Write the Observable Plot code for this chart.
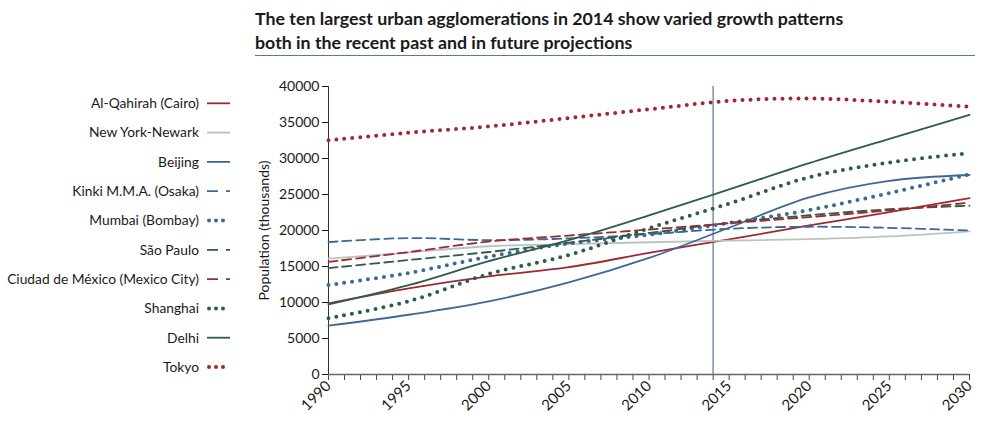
<!DOCTYPE html>
<html><head><meta charset="utf-8">
<script src="https://cdn.jsdelivr.net/npm/d3@7"></script>
<script src="https://cdn.jsdelivr.net/npm/@observablehq/plot@0.6"></script>
<style>
body{margin:0;background:#fff;width:987px;height:422px;overflow:hidden;position:relative;font-family:Lato,sans-serif}
#title{position:absolute;left:255px;top:6px;font-family:Lato,sans-serif;font-weight:bold;font-size:17.8px;line-height:24px;color:#1a1a1a;white-space:nowrap;z-index:3}
#rule{position:absolute;left:255px;top:55px;width:720px;height:0;border-top:1.3px solid #5b7895;z-index:3}
#chart{position:absolute;left:0;top:60px;z-index:1}
#legend{position:absolute;left:0;top:80px;z-index:2}
</style>
</head><body>
<div id="title">The ten largest urban agglomerations in 2014 show varied growth patterns<br>both in the recent past and in future projections</div>
<div id="rule"></div>
<div id="legend"></div>
<div id="chart"></div>
<script>
const years = [1990, 1995, 2000, 2005, 2010, 2015, 2020, 2025, 2030];
const cityNames = ["Al-Qahirah (Cairo)", "New York-Newark", "Beijing", "Kinki M.M.A. (Osaka)", "Mumbai (Bombay)", "São Paulo", "Ciudad de México (Mexico City)", "Shanghai", "Delhi", "Tokyo"];
const cairo    = [9892, 11962, 13626, 14900, 16899, 18772, 20700, 22550, 24502];
const newYork  = [16086, 16943, 17813, 18100, 18365, 18593, 18793, 19177, 19885];
const beijing  = [6788, 8300, 10162, 12800, 16190, 20384, 24600, 26900, 27706];
const osaka    = [18389, 18950, 18660, 18900, 19492, 20238, 20523, 20366, 20004];
const mumbai   = [12436, 14100, 16367, 18200, 19422, 21043, 22838, 25207, 27797];
const saoPaulo = [14776, 15900, 17014, 18300, 19660, 21066, 22119, 22953, 23444];
const mexico   = [15642, 17000, 18457, 19300, 20132, 20999, 21868, 22789, 23865];
const shanghai = [7823, 10171, 13959, 16600, 20314, 23741, 27400, 29442, 30751];
const delhi    = [9726, 12407, 15732, 18670, 22100, 25703, 29348, 32727, 36060];
const tokyo    = [32530, 33587, 34450, 35622, 36834, 38001, 38323, 37876, 37190];
const yTicks = [0, 5000, 10000, 15000, 20000, 25000, 30000, 35000, 40000];
const labelYears = [1990, 1995, 2000, 2005, 2010, 2015, 2020, 2025, 2030];
const allYears = d3.range(1990, 2031);
const markerYear = [2014];

const RED = "#9e2a31", LIGHT = "#b9c4bf", BLUE = "#3d6897", GREEN = "#2c5d47";
const styles = [
  {color: RED, type: "solid"},
  {color: LIGHT, type: "solid"},
  {color: BLUE, type: "solid"},
  {color: BLUE, type: "dash"},
  {color: BLUE, type: "dot"},
  {color: GREEN, type: "dash"},
  {color: RED, type: "dash"},
  {color: GREEN, type: "dot"},
  {color: GREEN, type: "solid"},
  {color: RED, type: "dot"}
];
const seriesValues = [cairo, newYork, beijing, osaka, mumbai, saoPaulo, mexico, shanghai, delhi, tokyo];

function strokeOpts(s) {
  if (s.type === "dash") return {strokeWidth: 1.8, strokeDasharray: "9,5"};
  if (s.type === "dot") return {strokeWidth: 4, strokeDasharray: "0,8", strokeLinecap: "round"};
  return {strokeWidth: 1.8};
}

const lineMarks = seriesValues.map((vals, i) => {
  const data = years.map((yr, j) => ({year: yr, value: vals[j], city: cityNames[i]}));
  return Plot.line(data, {x: "year", y: "value", stroke: styles[i].color, curve: "catmull-rom", ...strokeOpts(styles[i])});
});

const chart = Plot.plot({
  width: 987, height: 362,
  marginTop: 26, marginBottom: 48, marginLeft: 328, marginRight: 18,
  style: {fontFamily: "Lato, sans-serif", fontSize: "15px", color: "#1a1a1a", background: "transparent"},
  x: {domain: [1990, 2030]},
  y: {domain: [0, 40000]},
  marks: [
    Plot.axisY({ticks: yTicks, tickSize: 6, tickPadding: 3, tickFormat: d => String(d), label: "Population (thousands)", labelAnchor: "center", labelArrow: "none", labelOffset: 69, fontSize: 14}),
    Plot.axisX({ticks: allYears, tickSize: 6, tickFormat: () => "", label: null, stroke: "#444"}),
    Plot.axisX({ticks: labelYears, tickSize: 0, tickRotate: -45, tickPadding: 9, tickFormat: d => String(d), label: null, fontSize: 15}),
    Plot.ruleY([0], {stroke: "#666", strokeWidth: 1.6}),
    Plot.ruleX([1990], {stroke: "#333"}),
    Plot.ruleX(markerYear, {stroke: "#5b7895", strokeWidth: 1.2}),
    ...lineMarks
  ]
});
document.getElementById("chart").appendChild(chart);

// Legend
const lg = d3.select("#legend").append("svg").attr("width", 250).attr("height", 300)
  .style("font-family", "Lato, sans-serif").style("font-size", "13.8px");
cityNames.forEach((name, i) => {
  const y = 23.3 + i * 29.3;
  lg.append("text").attr("x", 199).attr("y", y).attr("dy", "0.35em").attr("text-anchor", "end").attr("fill", "#1a1a1a").text(name);
  const s = styles[i];
  const ln = lg.append("line").attr("y1", y).attr("y2", y).attr("stroke", s.color);
  if (s.type === "dot") ln.attr("x1", 209).attr("x2", 230).attr("stroke-width", 4).attr("stroke-linecap", "round").attr("stroke-dasharray", "0,7");
  else if (s.type === "dash") ln.attr("x1", 207).attr("x2", 230).attr("stroke-width", 1.8).attr("stroke-dasharray", "11,8");
  else ln.attr("x1", 207).attr("x2", 230).attr("stroke-width", 1.8);
});
</script>
</body></html>
